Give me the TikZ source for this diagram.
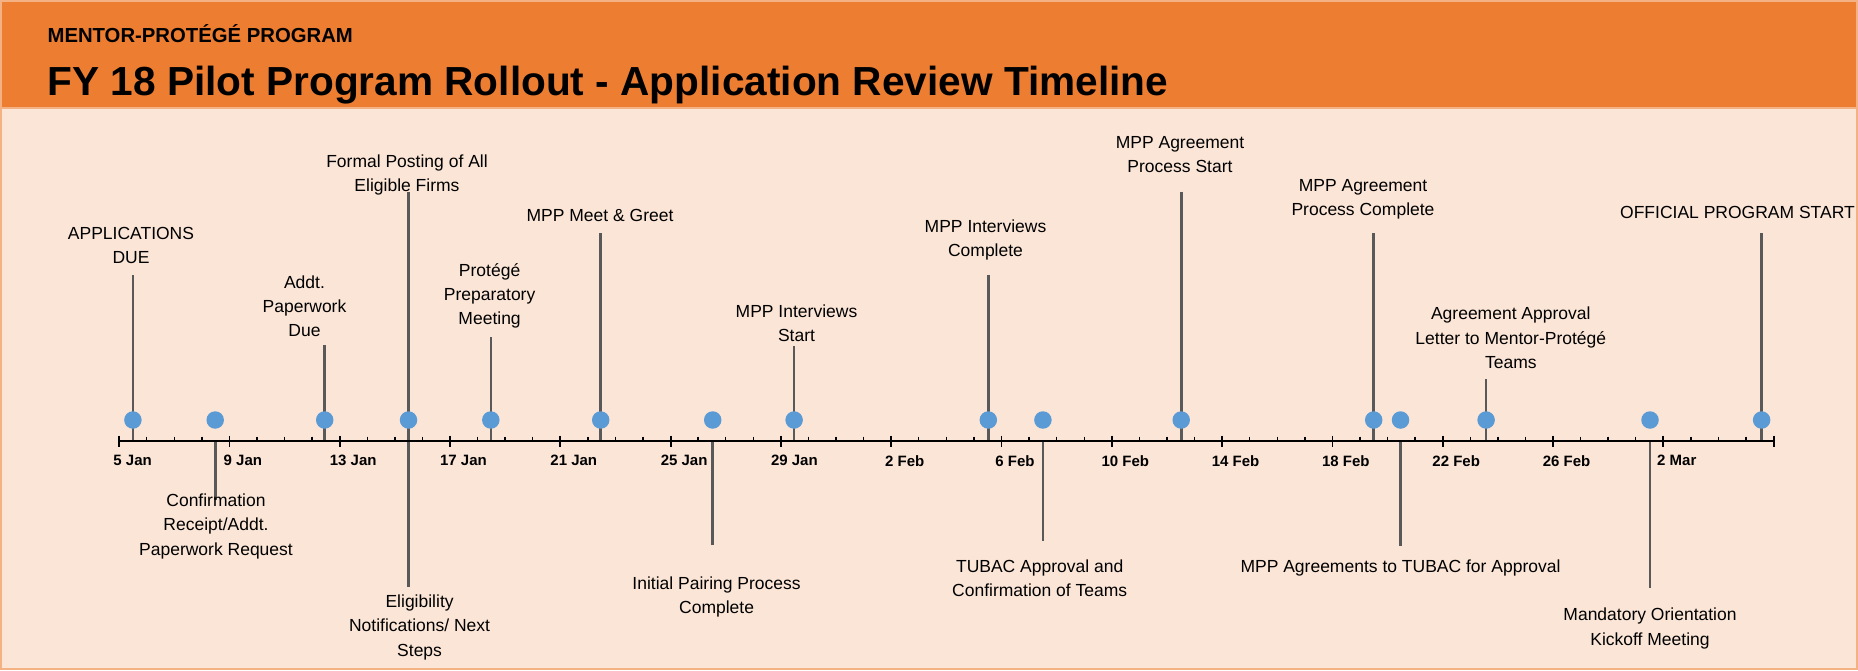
\documentclass[tikz,border=0pt]{standalone}
\usepackage{fontspec}
\setmainfont{Liberation Sans}
\usetikzlibrary{positioning,calc}

\definecolor{bandorange}{HTML}{ED7D31}
\definecolor{bodypeach}{HTML}{FBE5D6}
\definecolor{edgeorange}{HTML}{F4B183}
\definecolor{dotblue}{HTML}{5B9BD5}
\definecolor{stemgray}{HTML}{595959}

\begin{document}
\begin{tikzpicture}[
    x=1pt,
    y=-1pt,
    bullet/.style={
        fill=dotblue,
        circle,
        minimum size=17.5pt,
        inner sep=0pt
    },
    stem/.style={
        draw=stemgray,
        line width=2.6pt
    },
    evtext/.style={
        font=\fontsize{17.5}{24.3}\selectfont,
        align=center,
        inner sep=0pt,
        anchor=north
    },
    datetext/.style={
        font=\bfseries\fontsize{15}{18}\selectfont,
        inner sep=0pt
    },
    majortick/.style={
        line width=1.8pt
    },
    minortick/.style={
        line width=1.4pt
    }
    ]
    \useasboundingbox (0,0) rectangle (1858,670);
    \fill[bodypeach] (0,0) rectangle (1858,670);
    \fill[bandorange] (0,2) rectangle (1858,107);
    \draw[edgeorange,line width=2pt] (0,108) -- (1858,108);
    \draw[edgeorange,line width=2pt] (1,1) rectangle (1857,669);

    \node[anchor=base west,inner sep=0pt,font=\bfseries\fontsize{20.3}{24}\selectfont] (SUBTITLE) at (47.4,42.7) {MENTOR-PROTÉGÉ PROGRAM};
    \node[anchor=base west,inner sep=0pt,font=\bfseries\fontsize{40.6}{48}\selectfont] (TITLE) at (47.4,95) {FY 18 Pilot Program Rollout - Application Review Timeline};

    \coordinate (AXL) at (119.1,441);
    \coordinate (AXR) at (1774.6,441);

    % stem ends and texts
    \coordinate (APPDUE-E)   at (132.9,275);
    \coordinate (CONFIRM-E)  at (215.2,500);
    \coordinate (PAPERDUE-E) at (324.7,345);
    \coordinate (POSTING-E)  at (408.5,191.7);
    \coordinate (ELIGIBLE-E) at (408.5,586.7);
    \coordinate (PREP-E)     at (490.8,337.3);
    \coordinate (GREET-E)    at (600.7,233.3);
    \coordinate (PAIRING-E)  at (712.7,545);
    \coordinate (INTSTART-E) at (794.1,346);
    \coordinate (INTDONE-E)  at (988.3,275);
    \coordinate (TUBAC-E)    at (1042.9,540.7);
    \coordinate (AGRSTART-E) at (1181.2,191.7);
    \coordinate (AGRDONE-E)  at (1373.7,233.3);
    \coordinate (TOTUBAC-E)  at (1400.5,545.7);
    \coordinate (APPROVAL-E) at (1486.1,379.3);
    \coordinate (ORIENT-E)   at (1650,587.7);
    \coordinate (START-E)    at (1761.6,233.3);

    \draw[stem] (APPDUE-E) -- (APPDUE-E |- AXL);
    \draw[stem] (CONFIRM-E) -- (CONFIRM-E |- AXL);
    \draw[stem] (PAPERDUE-E) -- (PAPERDUE-E |- AXL);
    \draw[stem] (POSTING-E) -- (ELIGIBLE-E);
    \draw[stem] (PREP-E) -- (PREP-E |- AXL);
    \draw[stem] (GREET-E) -- (GREET-E |- AXL);
    \draw[stem] (PAIRING-E) -- (PAIRING-E |- AXL);
    \draw[stem] (INTSTART-E) -- (INTSTART-E |- AXL);
    \draw[stem] (INTDONE-E) -- (INTDONE-E |- AXL);
    \draw[stem] (TUBAC-E) -- (TUBAC-E |- AXL);
    \draw[stem] (AGRSTART-E) -- (AGRSTART-E |- AXL);
    \draw[stem] (AGRDONE-E) -- (AGRDONE-E |- AXL);
    \draw[stem] (TOTUBAC-E) -- (TOTUBAC-E |- AXL);
    \draw[stem] (APPROVAL-E) -- (APPROVAL-E |- AXL);
    \draw[stem] (ORIENT-E) -- (ORIENT-E |- AXL);
    \draw[stem] (START-E) -- (START-E |- AXL);

    % axis
    \draw[line width=2pt] (AXL) -- (AXR);
    \foreach \d in {0,...,60}{
        \pgfmathtruncatemacro\r{mod(\d,4)}
        \ifnum\r=0
            \draw[majortick] (119.1+\d*27.575,435.5) -- ++(0,11.5);
        \else
            \draw[minortick] (119.1+\d*27.575,436.5) -- ++(0,4.5);
        \fi
    }
    \foreach \lab [count=\k from 0] in {5 Jan,9 Jan,13 Jan,17 Jan,21 Jan,25 Jan,29 Jan,2 Feb,6 Feb,10 Feb,14 Feb,18 Feb,22 Feb,26 Feb,2 Mar}
        \node[datetext] (DATE\k) at (132.6+\k*110.3,460.7) {\lab};

    % events
    \node[bullet] (APPDUE)   at (132.9,420){};
    \node[bullet] (CONFIRM)  at (215.2,420){};
    \node[bullet] (PAPERDUE) at (324.7,420){};
    \node[bullet] (POSTING)  at (408.5,420){};
    \node[bullet] (PREP)     at (490.8,420){};
    \node[bullet] (GREET)    at (600.7,420){};
    \node[bullet] (PAIRING)  at (712.7,420){};
    \node[bullet] (INTSTART) at (794.1,420){};
    \node[bullet] (INTDONE)  at (988.3,420){};
    \node[bullet] (TUBAC)    at (1042.9,420){};
    \node[bullet] (AGRSTART) at (1181.2,420){};
    \node[bullet] (AGRDONE)  at (1373.7,420){};
    \node[bullet] (TOTUBAC)  at (1400.5,420){};
    \node[bullet] (APPROVAL) at (1486.1,420){};
    \node[bullet] (ORIENT)   at (1650,420){};
    \node[bullet] (START)    at (1761.6,420){};

    \node[evtext] (APPDUE-T)   at (131,227)     {APPLICATIONS\\DUE};
    \node[evtext] (CONFIRM-T)  at (216,493.7)   {Confirmation\\Receipt/Addt.\\Paperwork Request};
    \node[evtext] (PAPERDUE-T) at (304.5,275.4) {Addt.\\Paperwork\\Due};
    \node[evtext] (POSTING-T)  at (407,154.4)   {Formal Posting of All\\Eligible Firms};
    \node[evtext] (ELIGIBLE-T) at (419.6,594.7) {Eligibility\\Notifications/ Next\\Steps};
    \node[evtext] (PREP-T)     at (489.6,263)   {Protégé\\Preparatory\\Meeting};
    \node[evtext] (GREET-T)    at (600,208.7)   {MPP Meet \& Greet};
    \node[evtext] (PAIRING-T)  at (716.6,576.4) {Initial Pairing Process\\Complete};
    \node[evtext] (INTSTART-T) at (796.5,304.4) {MPP Interviews\\Start};
    \node[evtext] (INTDONE-T)  at (985.5,219.7) {MPP Interviews\\Complete};
    \node[evtext] (TUBAC-T)    at (1039.7,559.4) {TUBAC Approval and\\Confirmation of Teams};
    \node[evtext] (AGRSTART-T) at (1180,136.4)  {MPP Agreement\\Process Start};
    \node[evtext] (AGRDONE-T)  at (1363,179.4)  {MPP Agreement\\Process Complete};
    \node[evtext] (TOTUBAC-T)  at (1400.5,559.4) {MPP Agreements to TUBAC for Approval};
    \node[evtext] (APPROVAL-T) at (1510.8,307)  {Agreement Approval\\Letter to Mentor-Protégé\\Teams};
    \node[evtext] (ORIENT-T)   at (1650,608)    {Mandatory Orientation\\Kickoff Meeting};
    \node[evtext,anchor=north east] (START-T) at (1855,206.4) {OFFICIAL PROGRAM START};
\end{tikzpicture}
\end{document}
